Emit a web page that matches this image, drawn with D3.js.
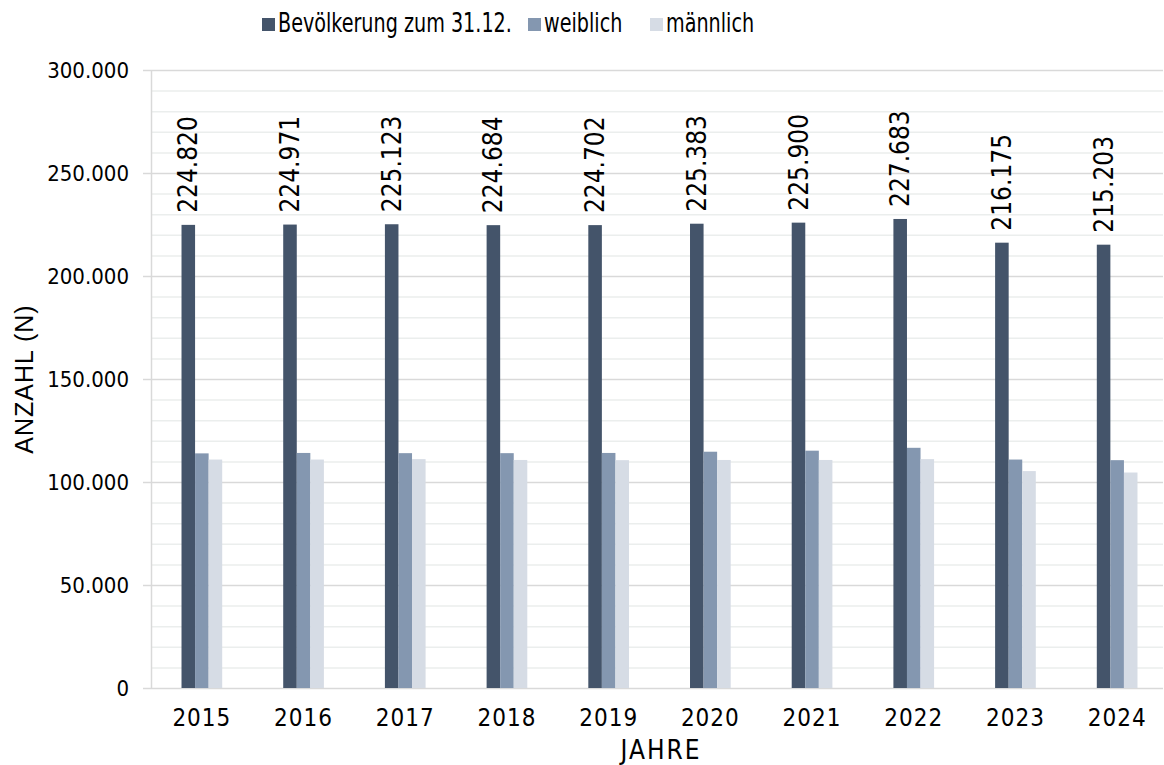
<!DOCTYPE html>
<html>
<head>
<meta charset="utf-8">
<script src="https://cdn.jsdelivr.net/npm/d3@7"></script>
<style>
  body { margin: 0; background: #fff; }
  svg text { font-family: "DejaVu Sans Condensed", "DejaVu Sans", sans-serif; font-stretch: condensed; fill: #000; }
</style>
</head>
<body>
<svg class="chart"></svg>
<script>
// data
var years = ["2015", "2016", "2017", "2018", "2019", "2020", "2021", "2022", "2023", "2024"];
var total = [224820, 224971, 225123, 224684, 224702, 225383, 225900, 227683, 216175, 215203];
var female = [113900, 114100, 114000, 114000, 114100, 114700, 115200, 116600, 110900, 110600];
var male = [110900, 110900, 111100, 110700, 110600, 110700, 110700, 111100, 105300, 104600];
var seriesNames = ["Bevölkerung zum 31.12.", "weiblich", "männlich"];
var yTicks = [0, 50000, 100000, 150000, 200000, 250000, 300000];

function show() {
    'use strict';

    var W = 1164, H = 765;
    var margin = {top: 70, right: -4, bottom: 77, left: 151},
        width = W - margin.left - margin.right,
        height = H - margin.top - margin.bottom;

    var colors = ["#44546a", "#8497b0", "#d6dce5"];
    var series = [total, female, male];

    var svg = d3.select(".chart").attr("width", W).attr("height", H);
    var chart = svg.append("g")
        .attr("transform", "translate(" + margin.left + "," + margin.top + ")");

    var x = d3.scaleBand().domain(years).range([0, width]).paddingInner(0.6).paddingOuter(0.3);
    var xSub = d3.scaleBand().domain([0, 1, 2]).range([0, x.bandwidth()]);
    var y = d3.scaleLinear().domain([0, 300000]).range([height, 0]);

    var gridRight = W - margin.left - 1;
    var fmt = function(v) { return d3.format(",")(v).replace(/,/g, "."); };

    // minor grid every 10.000
    chart.append("g").selectAll("line")
        .data(d3.range(10000, 300001, 10000).filter(function(v) { return v % 50000 !== 0; }))
        .enter().append("line")
        .attr("x1", 0).attr("x2", gridRight)
        .attr("y1", function(d) { return y(d) + 0.5; })
        .attr("y2", function(d) { return y(d) + 0.5; })
        .style("stroke", "#ebeeed").style("stroke-width", 1.5);

    // major grid and ticks
    var major = chart.append("g").selectAll("g").data(yTicks).enter().append("g")
        .attr("transform", function(d) { return "translate(0," + (y(d) + 0.5) + ")"; });
    major.append("line")
        .attr("x1", -8).attr("x2", gridRight)
        .style("stroke", "#d9d9d9").style("stroke-width", 1.5);
    major.append("text")
        .attr("x", -22).attr("dy", "0.35em")
        .attr("text-anchor", "end")
        .style("font-size", "22px")
        .text(function(d) { return fmt(d); });

    // left axis line
    chart.append("line")
        .attr("x1", 0.5).attr("x2", 0.5).attr("y1", 0).attr("y2", height)
        .style("stroke", "#d9d9d9").style("stroke-width", 1.5);

    // bars
    series.forEach(function(vals, s) {
        chart.append("g").selectAll("rect").data(vals).enter().append("rect")
            .attr("x", function(d, i) { return x(years[i]) + xSub(s); })
            .attr("width", xSub.bandwidth())
            .attr("y", function(d) { return y(d); })
            .attr("height", function(d) { return height - y(d); })
            .style("fill", colors[s]);
    });

    // value labels on total bars
    chart.append("g").selectAll("text").data(total).enter().append("text")
        .attr("transform", function(d, i) {
            return "translate(" + (x(years[i]) + xSub(0) + xSub.bandwidth() / 2) + "," + (y(d) - 12) + ") rotate(-90)";
        })
        .attr("dy", "0.35em")
        .style("font-size", "26px")
        .text(function(d) { return fmt(d); });

    // x labels
    chart.append("g").selectAll("text").data(years).enter().append("text")
        .attr("x", function(d) { return x(d) + x.bandwidth() / 2; })
        .attr("y", height + 38)
        .attr("text-anchor", "middle")
        .style("font-size", "24px")
        .style("letter-spacing", "1px")
        .text(function(d) { return d; });

    // axis titles
    svg.append("text")
        .attr("x", 661).attr("y", 759)
        .attr("text-anchor", "middle")
        .style("font-size", "26px")
        .style("letter-spacing", "2px")
        .text("JAHRE");
    svg.append("text")
        .attr("transform", "translate(33,379) rotate(-90)")
        .attr("text-anchor", "middle")
        .style("font-family", "'Liberation Sans', Arial, sans-serif")
        .style("font-stretch", "normal")
        .style("font-size", "25px")
        .style("letter-spacing", "1px")
        .text("ANZAHL (N)");

    // legend
    var legendX = [262, 528, 650];
    var legend = svg.append("g").selectAll("g").data(seriesNames).enter().append("g")
        .attr("transform", function(d, i) { return "translate(" + legendX[i] + ",18)"; });
    legend.append("rect").attr("width", 13).attr("height", 13)
        .style("fill", function(d, i) { return colors[i]; });
    legend.append("text")
        .attr("transform", "translate(16,14) scale(0.82,1)")
        .style("font-size", "26px")
        .text(function(d) { return d; });
}
show();
</script>
</body>
</html>
